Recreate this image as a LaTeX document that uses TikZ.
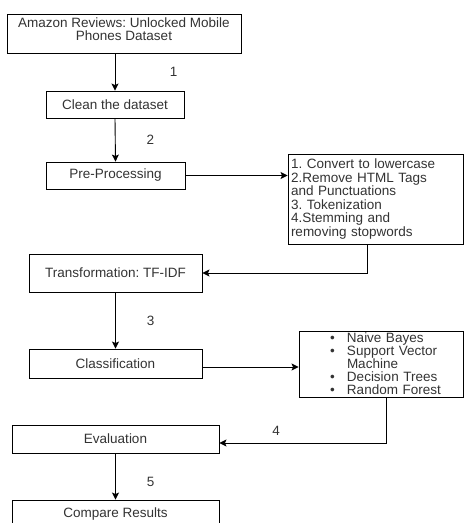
\documentclass[tikz,border=0pt]{standalone}
\usepackage{fontspec}
\setmainfont{Liberation Sans}
\usepackage{tikz}
\usetikzlibrary{arrows.meta,positioning,calc}
\definecolor{boxtext}{RGB}{51,51,51}
\frenchspacing

\begin{document}
\begin{tikzpicture}[x=1pt, y=-1pt, line width=0.9pt,
  font=\fontsize{13.5}{13.5}\selectfont,
  stepbox/.style={draw, inner sep=0pt, text=boxtext, align=center},
  flow/.style={-{Stealth[length=7pt,width=7pt,inset=1.5pt]}},
  num/.style={inner sep=0pt, text=boxtext}]
  \useasboundingbox (0,0) rectangle (464,523);
  \clip (0,0) rectangle (464,523);
  % Main pipeline boxes
  \node[stepbox, minimum width=234pt, minimum height=39pt, text depth=9pt] (data) at (124,33.5)
    {Amazon Reviews: Unlocked Mobile\\Phones Dataset};
  \node[stepbox, minimum width=138pt, minimum height=27pt] (clean) at (115,104.5)
    {Clean the dataset};
  \node[stepbox, minimum width=139pt, minimum height=27pt] (prep) at (115.5,175.5)
    {Pre-Processing};
  \node[stepbox, minimum width=173pt, minimum height=38pt] (tfidf) at (115.5,273)
    {Transformation: TF-IDF};
  \node[stepbox, minimum width=173pt, minimum height=29pt] (classif) at (115.5,363.5)
    {Classification};
  \node[stepbox, minimum width=207pt, minimum height=28pt] (eval) at (115.5,439)
    {Evaluation};
  \node[stepbox, minimum width=207pt, minimum height=28pt] (compare) at (115.5,514)
    {Compare Results};
  % Side boxes with details
  \node[stepbox, inner xsep=3pt, text width=169pt, align=left, minimum height=90pt]
    (steps) at (375.5,199)
    {1. Convert to lowercase\\2.Remove HTML Tags\\and Punctuations\\3. Tokenization\\4.Stemming and\\removing stopwords};
  \node[stepbox, text width=164pt, align=left, minimum height=66pt,
    font=\fontsize{13.5}{13}\selectfont] (models) at (381,364)
    {\hspace*{31pt}\makebox[17pt][l]{\textbullet}Naive Bayes\\
     \hspace*{31pt}\makebox[17pt][l]{\textbullet}Support Vector\\
     \hspace*{48pt}Machine\\
     \hspace*{31pt}\makebox[17pt][l]{\textbullet}Decision Trees\\
     \hspace*{31pt}\makebox[17pt][l]{\textbullet}Random Forest};
  % Connectors
  \draw[flow] (data.south -| clean.north) -- node[num, right=54.5pt] {1} (clean.north);
  \draw[flow] (clean.south) -- node[num, right=31pt] {2} (prep.north);
  \draw[flow] (prep.east) -- (prep.east -| steps.west);
  \draw[flow] ([xshift=-8.5pt]steps.south) |- (tfidf.east);
  \draw[flow] (tfidf.south) -- node[num, right=31pt] {3} (classif.north);
  \draw[flow] ([yshift=-3.5pt]classif.east) -- ([yshift=-3.5pt]classif.east -| models.west);
  \draw[flow] ([xshift=5pt]models.south) |- node[num, pos=0.83, above=7pt] {4}
    ([yshift=-4pt]eval.east);
  \draw[flow] (eval.south) -- node[num, pos=0.62, right=31pt] {5} (compare.north);
\end{tikzpicture}
\end{document}
